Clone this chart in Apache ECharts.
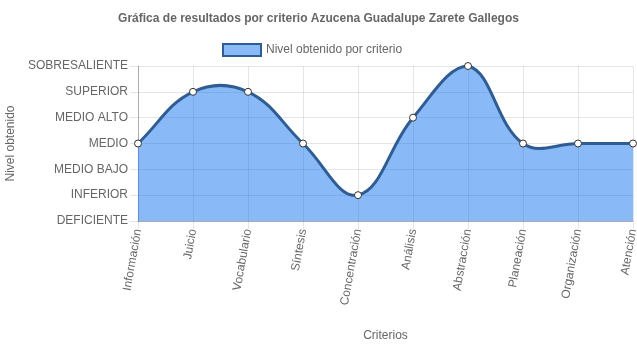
<!DOCTYPE html>
<html>
<head>
<meta charset="utf-8">
<script src="https://cdn.jsdelivr.net/npm/echarts@6/dist/echarts.min.js"></script>
<style>
  html, body { margin: 0; padding: 0; background: #fff; }
  #chart { width: 637px; height: 348px; }
</style>
</head>
<body>
<div id="chart"></div>
<script>
// Rating scale, lowest to highest
const niveles = ['DEFICIENTE', 'INFERIOR', 'MEDIO BAJO', 'MEDIO', 'MEDIO ALTO', 'SUPERIOR', 'SOBRESALIENTE'];

// Evaluated criteria
const criterios = ['Información', 'Juicio', 'Vocabulario', 'Síntesis', 'Concentración',
                   'Análisis', 'Abstracción', 'Planeación', 'Organización', 'Atención'];

// Level reached for each criterion
const resultados = ['MEDIO', 'SUPERIOR', 'SUPERIOR', 'MEDIO', 'INFERIOR',
                    'MEDIO ALTO', 'SOBRESALIENTE', 'MEDIO', 'MEDIO', 'MEDIO'];

const serieNombre = 'Nivel obtenido por criterio';
const valores = resultados.map(r => niveles.indexOf(r));

const fontFamily = '"Liberation Sans", Arial, Helvetica, sans-serif';
const gridColor = 'rgba(0,0,0,0.1)';
const textColor = '#666';
const lineColor = '#2f5d93';
const fillColor = 'rgba(19,115,239,0.5)';
const legendFill = '#89b9f7';
const tension = 0.4;

// Cardinal-style spline through the points (tension-based control points),
// with control points kept inside the plotting rectangle.
function splinePath(pts, rect) {
  const cap = (v, lo, hi) => Math.max(Math.min(v, hi), lo);
  const ctrl = pts.map((cur, i) => {
    const prev = pts[i - 1] || cur;
    const next = pts[i + 1] || cur;
    const d01 = Math.hypot(cur[0] - prev[0], cur[1] - prev[1]);
    const d12 = Math.hypot(next[0] - cur[0], next[1] - cur[1]);
    let s01 = d01 / (d01 + d12), s12 = d12 / (d01 + d12);
    if (isNaN(s01)) s01 = 0;
    if (isNaN(s12)) s12 = 0;
    const fa = tension * s01, fb = tension * s12;
    const dx = next[0] - prev[0], dy = next[1] - prev[1];
    return {
      prev: [cap(cur[0] - fa * dx, rect.x, rect.x + rect.width), cap(cur[1] - fa * dy, rect.y, rect.y + rect.height)],
      next: [cap(cur[0] + fb * dx, rect.x, rect.x + rect.width), cap(cur[1] + fb * dy, rect.y, rect.y + rect.height)]
    };
  });
  let d = 'M' + pts[0][0] + ' ' + pts[0][1];
  for (let i = 1; i < pts.length; i++) {
    const a = ctrl[i - 1].next, b = ctrl[i].prev;
    d += ' C' + a[0] + ' ' + a[1] + ' ' + b[0] + ' ' + b[1] + ' ' + pts[i][0] + ' ' + pts[i][1];
  }
  return d;
}

const chart = echarts.init(document.getElementById('chart'), null, { renderer: 'canvas' });

chart.setOption({
  animation: false,
  textStyle: { fontFamily: fontFamily },
  title: {
    text: 'Gráfica de resultados por criterio Azucena Guadalupe Zarete Gallegos',
    left: 'center',
    top: 8,
    textStyle: { fontSize: 12, fontWeight: 'bold', color: textColor, fontFamily: fontFamily }
  },
  legend: {
    top: 38,
    left: 217,
    itemWidth: 38,
    itemHeight: 12,
    itemGap: 10,
    icon: 'rect',
    textStyle: { fontSize: 12, color: textColor, fontFamily: fontFamily },
    data: [{
      name: serieNombre,
      itemStyle: { color: legendFill, borderColor: lineColor, borderWidth: 2 }
    }]
  },
  grid: { left: 138, right: 4, top: 66, bottom: 127, containLabel: false, outerBoundsMode: 'none' },
  xAxis: {
    type: 'category',
    data: criterios,
    boundaryGap: false,
    name: 'Criterios',
    nameLocation: 'middle',
    nameGap: 109,
    nameTextStyle: { fontSize: 12, color: textColor, fontFamily: fontFamily },
    axisLine: { show: true, lineStyle: { color: 'rgba(0,0,0,0.25)' } },
    axisTick: { show: true, length: 8, alignWithLabel: true, lineStyle: { color: gridColor } },
    splitLine: { show: true, lineStyle: { color: gridColor } },
    axisLabel: {
      rotate: 80,
      fontSize: 12,
      color: textColor,
      margin: 8,
      interval: 0,
      fontFamily: fontFamily
    }
  },
  yAxis: {
    type: 'value',
    min: 0,
    max: 6,
    interval: 1,
    name: 'Nivel obtenido',
    nameLocation: 'middle',
    nameRotate: 90,
    nameGap: 115,
    nameTextStyle: { fontSize: 12, color: textColor, fontFamily: fontFamily },
    axisLine: { show: true, lineStyle: { color: 'rgba(0,0,0,0.25)' } },
    axisTick: { show: true, length: 8, lineStyle: { color: gridColor } },
    splitLine: { show: true, lineStyle: { color: gridColor } },
    axisLabel: {
      fontSize: 12,
      color: textColor,
      margin: 10,
      fontFamily: fontFamily,
      formatter: v => niveles[v] || ''
    }
  },
  series: [
    {
      // Filled spline area and its outline
      name: serieNombre,
      type: 'custom',
      data: valores.map((v, i) => [i, v]),
      encode: { x: 0, y: 1 },
      z: 2,
      renderItem: (params, api) => {
        if (params.dataIndex !== 0) return null;
        const pts = valores.map((v, i) => api.coord([i, v]));
        const base = api.coord([0, 0])[1];
        const rect = params.coordSys;
        const curve = splinePath(pts, rect);
        const area = curve + ' L' + pts[pts.length - 1][0] + ' ' + base + ' L' + pts[0][0] + ' ' + base + ' Z';
        return {
          type: 'group',
          children: [
            { type: 'path', shape: { pathData: area }, style: { fill: fillColor, stroke: null } },
            { type: 'path', shape: { pathData: curve }, style: { fill: null, stroke: lineColor, lineWidth: 3 } }
          ]
        };
      }
    },
    {
      // Point markers
      name: serieNombre,
      type: 'line',
      data: valores,
      symbol: 'circle',
      symbolSize: 7,
      itemStyle: { color: '#fff', borderColor: '#333', borderWidth: 1 },
      lineStyle: { width: 0, opacity: 0 },
      z: 3
    }
  ]
});
</script>
</body>
</html>
